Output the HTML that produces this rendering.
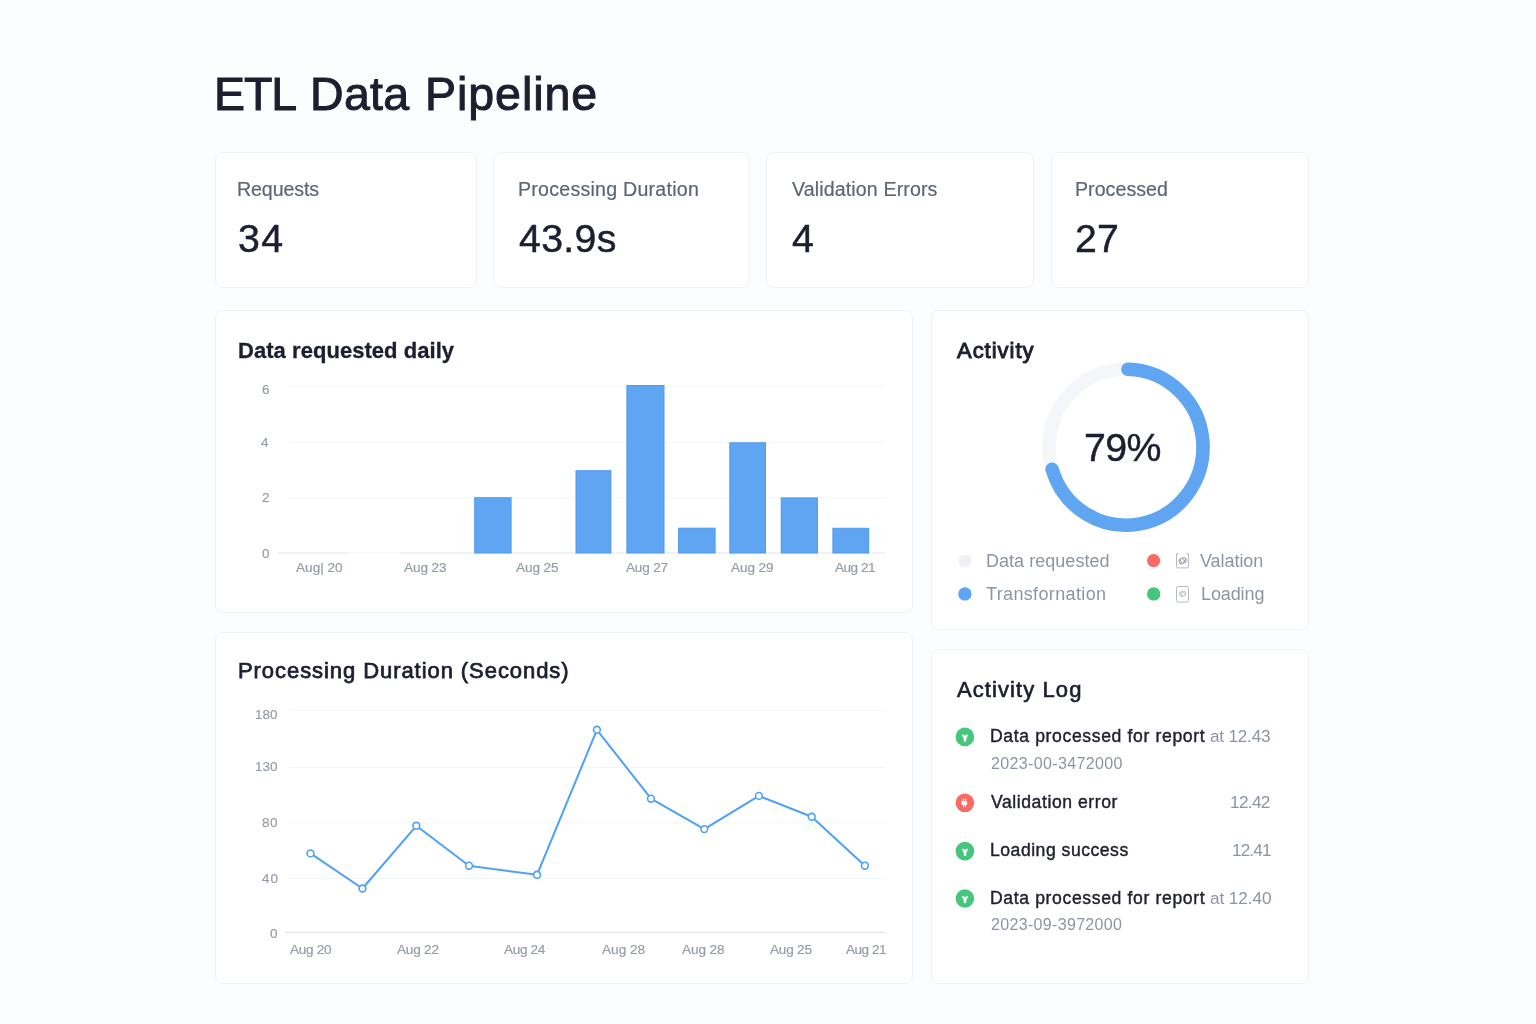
<!DOCTYPE html>
<html><head><meta charset="utf-8"><title>ETL Data Pipeline</title>
<style>
html,body{margin:0;padding:0}
body{width:1536px;height:1024px;position:relative;overflow:hidden;background:#fcfdfe;font-family:"Liberation Sans",sans-serif;}
.t{position:absolute;white-space:nowrap;margin:0;will-change:transform}
.abs{position:absolute}
.card{position:absolute;box-sizing:border-box;background:#fff;border:1px solid #f0f2f7;border-radius:8px}
</style></head><body>
<div class="card" style="left:215px;top:152px;width:262px;height:136px"></div>
<div class="card" style="left:493px;top:152px;width:257px;height:136px"></div>
<div class="card" style="left:766px;top:152px;width:268px;height:136px"></div>
<div class="card" style="left:1051px;top:152px;width:258px;height:136px"></div>
<div class="card" style="left:215px;top:310px;width:698px;height:303px"></div>
<div class="card" style="left:215px;top:632px;width:698px;height:352px"></div>
<div class="card" style="left:931px;top:310px;width:378px;height:320px"></div>
<div class="card" style="left:931px;top:649px;width:378px;height:335px"></div>
<svg class="abs" style="left:0;top:0" width="1536" height="1024" viewBox="0 0 1536 1024">
<line x1="288.5" x2="884.5" y1="386" y2="386" stroke="#f1f4f9" stroke-width="1"/>
<line x1="288.5" x2="884.5" y1="442.3" y2="442.3" stroke="#f1f4f9" stroke-width="1"/>
<line x1="288.5" x2="884.5" y1="497.8" y2="497.8" stroke="#f1f4f9" stroke-width="1"/>
<line x1="277" x2="885" y1="553" y2="553" stroke="#f3f5f8" stroke-width="1.2"/>
<line x1="277" x2="347.5" y1="553" y2="553" stroke="#e8ebf0" stroke-width="1.2"/>
<line x1="399.5" x2="885" y1="553" y2="553" stroke="#e8ebf0" stroke-width="1.2"/>
<rect x="474.7" y="497.7" width="36.4" height="55.3" fill="#5fa5f1" stroke="#5199ef" stroke-width="1"/>
<rect x="576.0" y="470.7" width="34.9" height="82.3" fill="#5fa5f1" stroke="#5199ef" stroke-width="1"/>
<rect x="626.9" y="385.5" width="37.1" height="167.5" fill="#5fa5f1" stroke="#5199ef" stroke-width="1"/>
<rect x="678.6" y="528.2" width="36.5" height="24.8" fill="#5fa5f1" stroke="#5199ef" stroke-width="1"/>
<rect x="729.8" y="442.8" width="35.7" height="110.2" fill="#5fa5f1" stroke="#5199ef" stroke-width="1"/>
<rect x="781.2" y="497.9" width="36.2" height="55.1" fill="#5fa5f1" stroke="#5199ef" stroke-width="1"/>
<rect x="832.9" y="528.3" width="35.8" height="24.7" fill="#5fa5f1" stroke="#5199ef" stroke-width="1"/>
<line x1="288.5" x2="885" y1="710.4" y2="710.4" stroke="#f1f4f9" stroke-width="1"/>
<line x1="288.5" x2="885" y1="767.4" y2="767.4" stroke="#f1f4f9" stroke-width="1"/>
<line x1="288.5" x2="885" y1="822.7" y2="822.7" stroke="#f1f4f9" stroke-width="1"/>
<line x1="288.5" x2="885" y1="878.6" y2="878.6" stroke="#f1f4f9" stroke-width="1"/>
<line x1="284.5" x2="885.2" y1="932.4" y2="932.4" stroke="#dfe3ea" stroke-width="1.3"/>
<polyline fill="none" stroke="#4fa1f4" stroke-width="2" stroke-linejoin="round" points="310.5,853.4 362.5,888.5 416.3,825.8 469,865.7 537,874.8 596.9,729.8 651,798.7 704.3,829.1 758.9,795.9 811.7,816.8 864.9,865.7"/>
<circle cx="310.5" cy="853.4" r="3.4" fill="#fff" stroke="#4fa1f4" stroke-width="1.6"/>
<circle cx="362.5" cy="888.5" r="3.4" fill="#fff" stroke="#4fa1f4" stroke-width="1.6"/>
<circle cx="416.3" cy="825.8" r="3.4" fill="#fff" stroke="#4fa1f4" stroke-width="1.6"/>
<circle cx="469" cy="865.7" r="3.4" fill="#fff" stroke="#4fa1f4" stroke-width="1.6"/>
<circle cx="537" cy="874.8" r="3.4" fill="#fff" stroke="#4fa1f4" stroke-width="1.6"/>
<circle cx="596.9" cy="729.8" r="3.4" fill="#fff" stroke="#4fa1f4" stroke-width="1.6"/>
<circle cx="651" cy="798.7" r="3.4" fill="#fff" stroke="#4fa1f4" stroke-width="1.6"/>
<circle cx="704.3" cy="829.1" r="3.4" fill="#fff" stroke="#4fa1f4" stroke-width="1.6"/>
<circle cx="758.9" cy="795.9" r="3.4" fill="#fff" stroke="#4fa1f4" stroke-width="1.6"/>
<circle cx="811.7" cy="816.8" r="3.4" fill="#fff" stroke="#4fa1f4" stroke-width="1.6"/>
<circle cx="864.9" cy="865.7" r="3.4" fill="#fff" stroke="#4fa1f4" stroke-width="1.6"/>
<ellipse cx="1126" cy="447.2" rx="77" ry="78" fill="none" stroke="#f4f6f9" stroke-width="13.6"/>
<path d="M1128.02 369.23 A77 78 0 1 1 1052.17 469.35" fill="none" stroke="#5fa5f1" stroke-width="13.6" stroke-linecap="round"/>
<circle cx="965" cy="560.9" r="6.5" fill="#eef0f3"/>
<circle cx="964.9" cy="593.9" r="6.7" fill="#5fa5f1"/>
<circle cx="1153.6" cy="560.7" r="6.6" fill="#f96a64"/>
<circle cx="1153.7" cy="593.9" r="6.7" fill="#45c67c"/>
<path d="M1178.5 553.7 H1176.5 V566.4 Q1176.5 567.9 1178 567.9 H1187 Q1188.5 567.9 1188.5 566.4 V553.7 H1186.5" fill="none" stroke="#b4bac5" stroke-width="1"/>
<g fill="none" stroke="#8d94a1" stroke-width="0.9" stroke-linecap="round"><ellipse cx="1182.7" cy="560.8" rx="3.7" ry="2.7" transform="rotate(-28 1182.7 560.8)"/><path d="M1180.2 559 L1181.3 562.8 M1182.2 558.6 L1185.2 561.6 M1183.2 563 L1185.6 559.4"/></g>
<rect x="1176.5" y="586.5" width="12" height="15.6" rx="1.8" fill="none" stroke="#b4bac5" stroke-width="1"/>
<g fill="none" stroke="#b3b8c2" stroke-width="0.9" stroke-linecap="round"><ellipse cx="1182.6" cy="593.8" rx="3.2" ry="2.3" transform="rotate(-28 1182.6 593.8)"/><path d="M1181 592.2 L1182 595.8 M1182.6 592 L1184.8 594.4"/></g>
<circle cx="964.9" cy="736.9" r="9.3" fill="#45c67c"/>
<path d="M962.2 734.9 L963.3 734.6999999999999 L965 736.1 L966.7 734.6999999999999 L967.8 734.9 L965.95 738.9 L965.95 741.1999999999999 L964.05 741.1999999999999 L964.05 738.9 Z" fill="#fff" stroke="#fff" stroke-width="0.5" stroke-linejoin="round"/>
<circle cx="964.9" cy="802.8" r="9.3" fill="#f96a64"/>
<rect x="961.3" y="801.0" width="5.9" height="3.9" rx="1" fill="#fff"/>
<path d="M963.3 799.4 V801.8 M965.6 798.9 V801.8 M963.6 804.8 V806.6999999999999 M965.5 804.8 V806.5" fill="none" stroke="#fff" stroke-width="1.1" stroke-linecap="round"/>
<circle cx="964.9" cy="851.1" r="9.3" fill="#45c67c"/>
<path d="M962.2 849.1 L963.3 848.9 L965 850.3000000000001 L966.7 848.9 L967.8 849.1 L965.95 853.1 L965.95 855.4 L964.05 855.4 L964.05 853.1 Z" fill="#fff" stroke="#fff" stroke-width="0.5" stroke-linejoin="round"/>
<circle cx="964.9" cy="898.5" r="9.3" fill="#45c67c"/>
<path d="M962.2 896.5 L963.3 896.3 L965 897.7 L966.7 896.3 L967.8 896.5 L965.95 900.5 L965.95 902.8 L964.05 902.8 L964.05 900.5 Z" fill="#fff" stroke="#fff" stroke-width="0.5" stroke-linejoin="round"/>
</svg>
<div class="t" style="left:214.10px;top:68px;font-size:46.5px;line-height:52px;color:#1d1f30;letter-spacing:-1.06px;-webkit-text-stroke:1.0px #1d1f30;">ETL</div>
<div class="t" style="left:310.00px;top:68px;font-size:46.5px;line-height:52px;color:#1d1f30;letter-spacing:0.313px;-webkit-text-stroke:1.0px #1d1f30;">Data</div>
<div class="t" style="left:425.00px;top:68px;font-size:46.5px;line-height:52px;color:#1d1f30;letter-spacing:0.958px;-webkit-text-stroke:1.0px #1d1f30;">Pipeline</div>
<div class="t" style="left:237.40px;top:178px;font-size:19.6px;line-height:22px;color:#5d6674;letter-spacing:-0.097px;-webkit-text-stroke:0.2px #5d6674;">Requests</div>
<div class="t" style="left:238.32px;top:216px;font-size:39.3px;line-height:44px;color:#1d1f30;letter-spacing:1.395px;-webkit-text-stroke:0.45px #1d1f30;">34</div>
<div class="t" style="left:517.70px;top:178px;font-size:19.6px;line-height:22px;color:#5d6674;letter-spacing:0.243px;-webkit-text-stroke:0.2px #5d6674;">Processing Duration</div>
<div class="t" style="left:519.33px;top:216px;font-size:39.3px;line-height:44px;color:#1d1f30;letter-spacing:0.304px;-webkit-text-stroke:0.45px #1d1f30;">43.9s</div>
<div class="t" style="left:792.30px;top:178px;font-size:19.6px;line-height:22px;color:#5d6674;letter-spacing:0.126px;-webkit-text-stroke:0.2px #5d6674;">Validation Errors</div>
<div class="t" style="left:791.65px;top:216px;font-size:39.3px;line-height:44px;color:#1d1f30;-webkit-text-stroke:0.45px #1d1f30;">4</div>
<div class="t" style="left:1075.10px;top:178px;font-size:19.6px;line-height:22px;color:#5d6674;letter-spacing:0.041px;-webkit-text-stroke:0.2px #5d6674;">Processed</div>
<div class="t" style="left:1075.02px;top:216px;font-size:39.3px;line-height:44px;color:#1d1f30;letter-spacing:0.195px;-webkit-text-stroke:0.45px #1d1f30;">27</div>
<div class="t" style="left:237.75px;top:338px;font-size:22px;line-height:25px;color:#1d1f30;font-weight:700;letter-spacing:0.045px;-webkit-text-stroke:0.3px #1d1f30;">Data requested daily</div>
<div class="t" style="left:237.97px;top:658px;font-size:22px;line-height:25px;color:#1d1f30;letter-spacing:0.932px;-webkit-text-stroke:0.75px #1d1f30;">Processing Duration (Seconds)</div>
<div class="t" style="left:957.40px;top:338px;font-size:22px;line-height:25px;color:#1d1f30;letter-spacing:0.975px;-webkit-text-stroke:1.0px #1d1f30;">Activity</div>
<div class="t" style="left:957.12px;top:677px;font-size:22px;line-height:25px;color:#1d1f30;letter-spacing:1.081px;-webkit-text-stroke:0.65px #1d1f30;">Activity Log</div>
<div class="t" style="left:262.00px;top:382px;font-size:13.5px;line-height:15px;color:#959ca9;-webkit-text-stroke:0.2px #959ca9;">6</div>
<div class="t" style="left:261.10px;top:435px;font-size:13.5px;line-height:15px;color:#959ca9;-webkit-text-stroke:0.2px #959ca9;">4</div>
<div class="t" style="left:261.55px;top:490px;font-size:13.5px;line-height:15px;color:#959ca9;-webkit-text-stroke:0.2px #959ca9;">2</div>
<div class="t" style="left:261.70px;top:546px;font-size:13.5px;line-height:15px;color:#959ca9;-webkit-text-stroke:0.2px #959ca9;">0</div>
<div class="t" style="left:295.50px;top:560px;font-size:13.6px;line-height:15px;color:#959ca9;letter-spacing:0.007px;-webkit-text-stroke:0.2px #959ca9;">Aug| 20</div>
<div class="t" style="left:404.30px;top:560px;font-size:13.6px;line-height:15px;color:#959ca9;letter-spacing:-0.085px;-webkit-text-stroke:0.2px #959ca9;">Aug 23</div>
<div class="t" style="left:515.70px;top:560px;font-size:13.6px;line-height:15px;color:#959ca9;letter-spacing:-0.085px;-webkit-text-stroke:0.2px #959ca9;">Aug 25</div>
<div class="t" style="left:625.50px;top:560px;font-size:13.6px;line-height:15px;color:#959ca9;letter-spacing:-0.205px;-webkit-text-stroke:0.2px #959ca9;">Aug 27</div>
<div class="t" style="left:731.10px;top:560px;font-size:13.6px;line-height:15px;color:#959ca9;letter-spacing:-0.085px;-webkit-text-stroke:0.2px #959ca9;">Aug 29</div>
<div class="t" style="left:835.30px;top:560px;font-size:13.6px;line-height:15px;color:#959ca9;letter-spacing:-0.505px;-webkit-text-stroke:0.2px #959ca9;">Aug 21</div>
<div class="t" style="left:255.00px;top:707px;font-size:13.5px;line-height:15px;color:#959ca9;letter-spacing:-0.008px;-webkit-text-stroke:0.2px #959ca9;">180</div>
<div class="t" style="left:255.00px;top:759px;font-size:13.5px;line-height:15px;color:#959ca9;letter-spacing:-0.008px;-webkit-text-stroke:0.2px #959ca9;">130</div>
<div class="t" style="left:262.10px;top:815px;font-size:13.5px;line-height:15px;color:#959ca9;letter-spacing:0.392px;-webkit-text-stroke:0.2px #959ca9;">80</div>
<div class="t" style="left:261.60px;top:871px;font-size:13.5px;line-height:15px;color:#959ca9;letter-spacing:0.892px;-webkit-text-stroke:0.2px #959ca9;">40</div>
<div class="t" style="left:270.10px;top:926px;font-size:13.5px;line-height:15px;color:#959ca9;-webkit-text-stroke:0.2px #959ca9;">0</div>
<div class="t" style="left:289.70px;top:942px;font-size:13.6px;line-height:15px;color:#959ca9;letter-spacing:-0.325px;-webkit-text-stroke:0.2px #959ca9;">Aug 20</div>
<div class="t" style="left:397.00px;top:942px;font-size:13.6px;line-height:15px;color:#959ca9;letter-spacing:-0.225px;-webkit-text-stroke:0.2px #959ca9;">Aug 22</div>
<div class="t" style="left:503.85px;top:942px;font-size:13.6px;line-height:15px;color:#959ca9;letter-spacing:-0.335px;-webkit-text-stroke:0.2px #959ca9;">Aug 24</div>
<div class="t" style="left:602.00px;top:942px;font-size:13.6px;line-height:15px;color:#959ca9;-webkit-text-stroke:0.2px #959ca9;">Aug 28</div>
<div class="t" style="left:682.20px;top:942px;font-size:13.6px;line-height:15px;color:#959ca9;letter-spacing:-0.085px;-webkit-text-stroke:0.2px #959ca9;">Aug 28</div>
<div class="t" style="left:769.70px;top:942px;font-size:13.6px;line-height:15px;color:#959ca9;letter-spacing:-0.215px;-webkit-text-stroke:0.2px #959ca9;">Aug 25</div>
<div class="t" style="left:845.70px;top:942px;font-size:13.6px;line-height:15px;color:#959ca9;letter-spacing:-0.505px;-webkit-text-stroke:0.2px #959ca9;">Aug 21</div>
<div class="t" style="left:1084.22px;top:425px;font-size:39.3px;line-height:44px;color:#1d1f30;letter-spacing:-0.63px;-webkit-text-stroke:0.45px #1d1f30;">79%</div>
<div class="t" style="left:985.80px;top:551px;font-size:18px;line-height:20px;color:#8d95a3;letter-spacing:0.033px;">Data requested</div>
<div class="t" style="left:985.60px;top:584px;font-size:18px;line-height:20px;color:#8d95a3;letter-spacing:0.355px;">Transfornation</div>
<div class="t" style="left:1200.00px;top:551px;font-size:18px;line-height:20px;color:#8d95a3;letter-spacing:-0.057px;">Valation</div>
<div class="t" style="left:1200.70px;top:584px;font-size:18px;line-height:20px;color:#8d95a3;letter-spacing:-0.109px;">Loading</div>
<div class="t" style="left:989.80px;top:726px;font-size:17.6px;line-height:20px;color:#20222f;letter-spacing:0.629px;-webkit-text-stroke:0.4px #20222f;">Data processed for report</div>
<div class="t" style="left:1210.40px;top:726px;font-size:17.2px;line-height:20px;color:#8d95a3;letter-spacing:-0.223px;">at 12.43</div>
<div class="t" style="left:991.30px;top:755px;font-size:16px;line-height:17px;color:#8d95a3;letter-spacing:0.354px;">2023-00-3472000</div>
<div class="t" style="left:991.45px;top:792px;font-size:17.6px;line-height:20px;color:#20222f;letter-spacing:0.56px;-webkit-text-stroke:0.4px #20222f;">Validation error</div>
<div class="t" style="left:1229.90px;top:792px;font-size:17.2px;line-height:20px;color:#8d95a3;letter-spacing:-0.663px;">12.42</div>
<div class="t" style="left:989.80px;top:840px;font-size:17.6px;line-height:20px;color:#20222f;letter-spacing:0.51px;-webkit-text-stroke:0.4px #20222f;">Loading success</div>
<div class="t" style="left:1231.50px;top:840px;font-size:17.2px;line-height:20px;color:#8d95a3;letter-spacing:-0.888px;">12.41</div>
<div class="t" style="left:989.80px;top:888px;font-size:17.6px;line-height:20px;color:#20222f;letter-spacing:0.629px;-webkit-text-stroke:0.4px #20222f;">Data processed for report</div>
<div class="t" style="left:1210.40px;top:888px;font-size:17.2px;line-height:20px;color:#8d95a3;letter-spacing:-0.094px;">at 12.40</div>
<div class="t" style="left:991.25px;top:916px;font-size:16px;line-height:17px;color:#8d95a3;letter-spacing:0.329px;">2023-09-3972000</div>
</body></html>
